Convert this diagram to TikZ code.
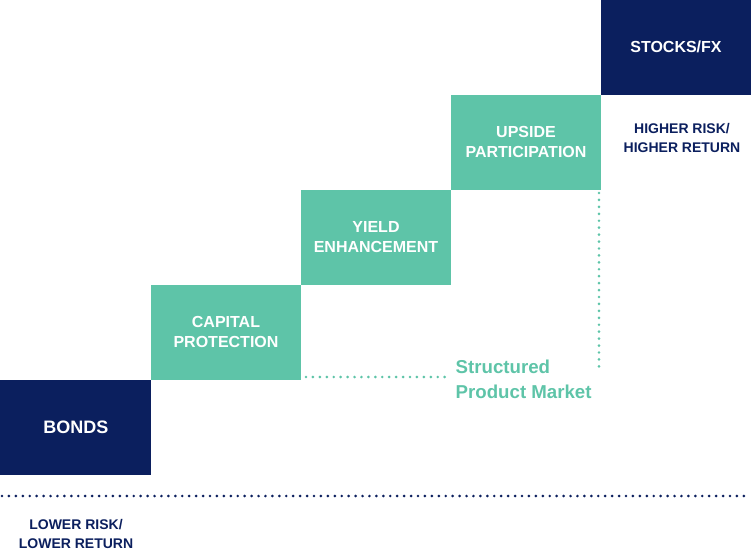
\documentclass[tikz,border=0pt]{standalone}
\usepackage{fontspec}
\setmainfont{Liberation Sans}
\definecolor{navy}{HTML}{0B1F5E}
\definecolor{teal}{HTML}{5EC4A8}
\begin{document}
\begin{tikzpicture}[x=0.75pt,y=-0.75pt,
  box/.style={fill=#1,text=white,font=\bfseries\fontsize{12}{14.5}\selectfont,align=center},
  lbl/.style={text=navy,font=\bfseries\fontsize{10.5}{14}\selectfont,align=center},
  dots/.style={line width=2.2pt,dash pattern=on 0pt off 5.2pt,line cap=round}]
\useasboundingbox (0,0) rectangle (751,551);
\fill[navy] (0,380) rectangle (151,475);
\fill[teal] (151,285) rectangle (301,380);
\fill[teal] (301,190) rectangle (451,285);
\fill[teal] (451,95) rectangle (601,190);
\fill[navy] (601,0) rectangle (751,95);
\node[box=navy,font=\bfseries\fontsize{13.5}{16}\selectfont,fill=none] (b) at (76,427) {BONDS};
\node[box=none,fill=none] (c) at (226,332) {CAPITAL\\PROTECTION};
\node[box=none,fill=none] (y) at (376,237) {YIELD\\ENHANCEMENT};
\node[box=none,fill=none] (u) at (526,142) {UPSIDE\\PARTICIPATION};
\node[box=none,fill=none] (s) at (676,47) {STOCKS/FX};
\node[lbl] (h) at (682,138) {HIGHER RISK/\\HIGHER RETURN};
\node[lbl] (l) at (76,534) {LOWER RISK/\\LOWER RETURN};
\node[text=teal,font=\bfseries\fontsize{14}{19}\selectfont,align=left,anchor=west] (m) at (451,379) {Structured\\Product Market};
\coordinate (h1) at (306,377); \coordinate (h2) at (446,377);
\coordinate (v1) at (599,193); \coordinate (v2) at (599,372);
\draw[teal,dots] (h1) -- (h2);
\draw[teal,dots] (v1) -- (v2);
\coordinate (d1) at (2,496); \coordinate (d2) at (750,496);
\draw[navy,dots] (d1) -- (d2);
\end{tikzpicture}
\end{document}
